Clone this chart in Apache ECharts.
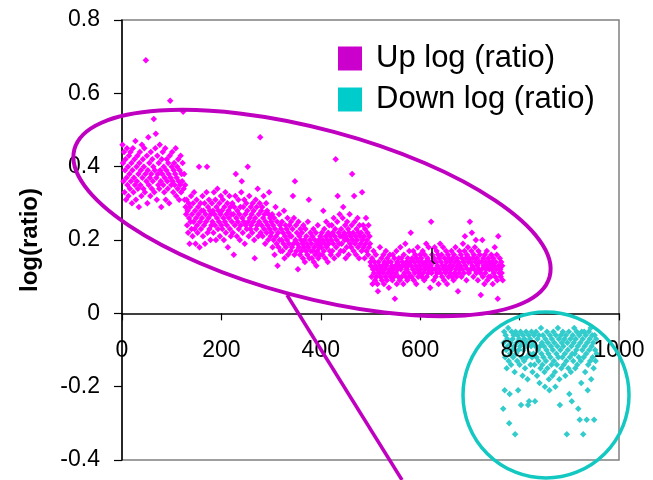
<!DOCTYPE html>
<html>
<head>
<meta charset="utf-8">
<script src="https://cdn.jsdelivr.net/npm/echarts/dist/echarts.min.js"></script>
<style>html,body{margin:0;padding:0;background:#fff;}#chart{width:653px;height:480px;}</style>
</head>
<body>
<div id="chart"></div>
<script>
// Series names
const seriesNames = ['Up log (ratio)', 'Down log (ratio)'];
// x tick / y tick settings
const xTicks = [0, 200, 400, 600, 800, 1000];
const yTicks = [-0.4, -0.2, 0, 0.2, 0.4, 0.6, 0.8];

// "Up" points: y values for rows 1..766 (x = row number)
const upStart = 1;
const upY = [
0.46,0.41,0.36,0.44,0.33,0.39,0.42,0.31,0.37,0.45,0.35,0.40,0.32,0.43,0.38,0.34,0.44,0.36,0.41,0.30,
0.39,0.45,0.33,0.37,0.42,0.35,0.47,0.31,0.40,0.36,0.43,0.34,0.38,0.29,0.41,0.44,0.35,0.39,0.32,0.46,
0.37,0.42,0.34,0.40,0.45,0.33,0.38,0.69,0.36,0.43,0.30,0.39,0.48,0.35,0.41,0.37,0.32,0.44,0.38,0.34,
0.42,0.36,0.40,0.53,0.33,0.39,0.45,0.49,0.37,0.31,0.43,0.38,0.35,0.41,0.34,0.46,0.39,0.36,0.29,0.42,
0.38,0.44,0.35,0.40,0.33,0.37,0.45,0.31,0.39,0.42,0.36,0.34,0.41,0.38,0.30,0.43,0.58,0.37,0.35,0.40,
0.44,0.36,0.33,0.39,0.41,0.35,0.38,0.45,0.32,0.37,0.40,0.34,0.42,0.36,0.31,0.39,0.35,0.43,0.33,0.38,
0.36,0.41,0.55,0.34,0.38,0.31,0.35,0.29,0.27,0.31,0.24,0.28,0.22,0.30,0.26,0.19,0.29,0.25,0.32,0.23,
0.27,0.21,0.30,0.25,0.33,0.23,0.28,0.19,0.26,0.31,0.24,0.22,0.29,0.27,0.40,0.18,0.25,0.30,0.23,0.28,
0.26,0.32,0.21,0.28,0.24,0.30,0.19,0.27,0.25,0.33,0.40,0.22,0.29,0.26,0.31,0.23,0.28,0.20,0.27,0.24,
0.30,0.25,0.28,0.22,0.33,0.27,0.24,0.31,0.20,0.29,0.26,0.34,0.23,0.28,0.25,0.30,0.21,0.27,0.32,0.24,
0.28,0.23,0.31,0.26,0.20,0.29,0.25,0.33,0.22,0.27,0.24,0.30,0.18,0.28,0.26,0.32,0.23,0.29,0.21,0.27,
0.25,0.30,0.22,0.27,0.16,0.29,0.24,0.32,0.38,0.26,0.21,0.28,0.25,0.31,0.23,0.27,0.20,0.29,0.24,0.33,
0.36,0.26,0.22,0.29,0.25,0.31,0.19,0.27,0.24,0.30,0.23,0.28,0.40,0.25,0.21,0.32,0.26,0.23,0.29,0.24,
0.27,0.22,0.30,0.25,0.28,0.20,0.15,0.26,0.31,0.23,0.29,0.24,0.34,0.21,0.27,0.25,0.30,0.48,0.22,0.28,
0.24,0.29,0.21,0.26,0.32,0.23,0.27,0.19,0.25,0.30,0.22,0.28,0.24,0.20,0.27,0.33,0.23,0.26,0.21,0.25,
0.22,0.27,0.18,0.24,0.20,0.26,0.16,0.23,0.29,0.21,0.19,0.25,0.13,0.22,0.18,0.27,0.20,0.24,0.17,0.23,
0.20,0.25,0.17,0.22,0.19,0.28,0.15,0.21,0.24,0.18,0.23,0.20,0.26,0.16,0.22,0.19,0.24,0.21,0.17,0.25,
0.21,0.18,0.23,0.32,0.19,0.26,0.16,0.36,0.20,0.24,0.17,0.22,0.19,0.12,0.25,0.18,0.21,0.16,0.23,0.20,
0.17,0.22,0.19,0.15,0.24,0.18,0.20,0.14,0.23,0.17,0.21,0.19,0.16,0.25,0.18,0.31,0.15,0.20,0.22,0.17,
0.19,0.15,0.21,0.17,0.23,0.14,0.18,0.20,0.16,0.22,0.13,0.19,0.17,0.24,0.15,0.20,0.18,0.16,0.21,0.19,
0.18,0.22,0.16,0.20,0.28,0.17,0.23,0.19,0.15,0.21,0.25,0.18,0.20,0.14,0.22,0.19,0.24,0.17,0.21,0.16,
0.20,0.24,0.17,0.22,0.19,0.26,0.15,0.21,0.23,0.42,0.18,0.20,0.25,0.32,0.16,0.22,0.19,0.27,0.21,0.17,
0.23,0.19,0.21,0.26,0.29,0.17,0.22,0.20,0.24,0.15,0.21,0.18,0.25,0.20,0.23,0.16,0.22,0.27,0.19,0.21,
0.18,0.24,0.38,0.20,0.22,0.17,0.32,0.25,0.19,0.21,0.16,0.23,0.20,0.26,0.18,0.22,0.15,0.24,0.21,0.19,
0.22,0.17,0.33,0.20,0.24,0.18,0.21,0.15,0.23,0.19,0.26,0.17,0.20,0.22,0.16,0.24,0.18,0.21,0.19,0.14,
0.13,0.10,0.15,0.08,0.12,0.17,0.11,0.14,0.09,0.13,0.16,0.10,0.12,0.08,0.06,0.14,0.11,0.13,0.18,0.10,
0.12,0.15,0.09,0.13,0.11,0.16,0.08,0.14,0.12,0.10,0.17,0.13,0.09,0.15,0.11,0.14,0.07,0.12,0.16,0.10,
0.14,0.11,0.13,0.09,0.16,0.12,0.10,0.15,0.04,0.13,0.11,0.17,0.08,0.14,0.12,0.10,0.15,0.13,0.09,0.18,
0.12,0.15,0.10,0.14,0.13,0.08,0.16,0.11,0.13,0.19,0.10,0.14,0.12,0.09,0.15,0.13,0.11,0.17,0.10,0.14,
0.22,0.13,0.10,0.15,0.12,0.17,0.09,0.14,0.11,0.16,0.13,0.08,0.15,0.12,0.18,0.10,0.14,0.11,0.13,0.16,
0.12,0.15,0.10,0.14,0.17,0.11,0.13,0.09,0.16,0.12,0.14,0.19,0.10,0.13,0.15,0.11,0.18,0.12,0.14,0.07,
0.13,0.25,0.11,0.16,0.12,0.14,0.09,0.15,0.18,0.12,0.10,0.14,0.17,0.11,0.13,0.16,0.08,0.15,0.12,0.19,
0.11,0.14,0.16,0.10,0.13,0.18,0.12,0.09,0.15,0.13,0.11,0.17,0.14,0.08,0.12,0.16,0.10,0.15,0.13,0.11,
0.14,0.12,0.17,0.10,0.15,0.13,0.09,0.16,0.11,0.14,0.18,0.12,0.10,0.15,0.13,0.06,0.14,0.11,0.17,0.12,
0.13,0.16,0.10,0.15,0.12,0.19,0.14,0.11,0.17,0.21,0.13,0.15,0.09,0.16,0.12,0.18,0.14,0.11,0.15,0.25,
0.14,0.12,0.17,0.22,0.13,0.15,0.10,0.16,0.12,0.18,0.14,0.20,0.11,0.15,0.13,0.09,0.17,0.12,0.14,0.16,
0.11,0.05,0.14,0.12,0.20,0.10,0.15,0.13,0.08,0.16,0.11,0.14,0.12,0.17,0.09,0.13,0.15,0.10,0.12,0.14,
0.13,0.10,0.16,0.12,0.14,0.08,0.15,0.11,0.13,0.18,0.10,0.14,0.12,0.16,0.09,0.04,0.21,0.13,0.11,0.15,
0.12,0.10,0.14,0.11,0.13,0.09
];

// "Down" points: y values for rows 767..955 (x = row number)
const downStart = 767;
const downY = [
-0.26,-0.08,-0.05,-0.21,-0.12,-0.06,-0.10,-0.15,-0.07,-0.09,-0.04,-0.13,-0.30,-0.22,-0.11,-0.08,-0.14,-0.05,-0.10,-0.07,
-0.12,-0.06,-0.09,-0.16,-0.33,-0.05,-0.11,-0.08,-0.13,-0.06,-0.21,-0.10,-0.07,-0.14,-0.09,-0.05,-0.25,-0.12,-0.08,-0.17,
-0.06,-0.10,-0.13,-0.07,-0.15,-0.09,-0.05,-0.12,-0.08,-0.18,-0.25,-0.06,-0.24,-0.11,-0.07,-0.14,-0.09,-0.05,-0.12,-0.16,
-0.08,-0.11,-0.06,-0.14,-0.24,-0.09,-0.05,-0.12,-0.17,-0.07,-0.10,-0.13,-0.06,-0.19,-0.09,-0.15,-0.04,-0.11,-0.08,-0.14,
-0.06,-0.12,-0.09,-0.16,-0.20,-0.07,-0.13,-0.10,-0.05,-0.15,-0.08,-0.11,-0.18,-0.21,-0.06,-0.12,-0.09,-0.14,-0.07,-0.17,
-0.10,-0.05,-0.13,-0.08,-0.16,-0.20,-0.06,-0.11,-0.14,-0.09,-0.04,-0.12,-0.07,-0.18,-0.25,-0.10,-0.06,-0.15,-0.08,-0.12,
-0.05,-0.09,-0.14,-0.07,-0.11,-0.17,-0.06,-0.13,-0.33,-0.08,-0.10,-0.15,-0.05,-0.22,-0.12,-0.07,-0.16,-0.09,-0.24,-0.11,
-0.06,-0.13,-0.08,-0.04,-0.11,-0.15,-0.07,-0.10,-0.05,-0.14,-0.09,-0.26,-0.12,-0.06,-0.29,-0.08,-0.13,-0.19,-0.05,-0.10,
-0.07,-0.33,-0.12,-0.05,-0.09,-0.16,-0.06,-0.11,-0.29,-0.08,-0.21,-0.14,-0.05,-0.10,-0.07,-0.13,-0.04,-0.18,-0.09,-0.06,
-0.12,-0.08,-0.15,-0.29,-0.06,-0.10,-0.13,-0.07,-0.11
];

const FONT = '"Liberation Sans", Arial, sans-serif';
const upData = upY.map((y, i) => [upStart + i, y]);
const downData = downY.map((y, i) => [downStart + i, y]);

// plot area (pixels) and zero-line offset for the x axis
const GRID = {left: 122, right: 34, top: 20, bottom: 20};
const plotH = 480 - GRID.top - GRID.bottom;
const zeroOffset = -plotH * (0 - yTicks[0]) / (yTicks[yTicks.length - 1] - yTicks[0]);

const chart = echarts.init(document.getElementById('chart'), null, {renderer: 'canvas'});
chart.setOption({
  animation: false,
  backgroundColor: '#ffffff',
  grid: {left: GRID.left, right: GRID.right, top: GRID.top, bottom: GRID.bottom, show: true,
         borderColor: '#808080', borderWidth: 1.5, containLabel: false, outerBoundsMode: 'none'},
  legend: {
    orient: 'vertical', left: 333, top: 38, itemWidth: 24, itemHeight: 24, itemGap: 10, icon: 'rect',
    textStyle: {fontSize: 31, fontFamily: FONT, color: '#000', padding: [0, 0, 0, 9]},
    data: [
      {name: seriesNames[0], itemStyle: {color: '#CC00CC', opacity: 1}},
      {name: seriesNames[1], itemStyle: {color: '#00CCCC', opacity: 1}}
    ]
  },
  xAxis: {
    type: 'value', min: xTicks[0], max: xTicks[xTicks.length - 1], interval: xTicks[1] - xTicks[0],
    position: 'bottom', offset: zeroOffset, z: 10,
    axisLine: {onZero: false, lineStyle: {color: '#000', width: 1.5}},
    axisTick: {show: true, length: 7, lineStyle: {color: '#000', width: 1.2}},
    axisLabel: {margin: 26, fontSize: 23, color: '#000', fontFamily: FONT, formatter: v => String(v)},
    splitLine: {show: false}
  },
  yAxis: {
    type: 'value', min: yTicks[0], max: yTicks[yTicks.length - 1], interval: yTicks[1] - yTicks[0],
    name: 'log(ratio)', nameLocation: 'middle', nameRotate: 90, nameGap: 80,
    nameTextStyle: {fontSize: 24, fontWeight: 'bold', fontFamily: FONT, color: '#000'},
    axisLine: {onZero: false, lineStyle: {color: '#000', width: 1.5}},
    axisTick: {show: true, length: 8, lineStyle: {color: '#000', width: 1.2}},
    axisLabel: {margin: 22, fontSize: 23, color: '#000', fontFamily: FONT, formatter: v => String(Math.round(v * 10) / 10)},
    splitLine: {show: false}
  },
  series: [
    {name: seriesNames[0], type: 'scatter', symbol: 'diamond', symbolSize: 6.5, data: upData,
     itemStyle: {color: '#FF00FF', opacity: 1}, emphasis: {disabled: true}},
    {name: seriesNames[1], type: 'scatter', symbol: 'diamond', symbolSize: 6.5, data: downData,
     itemStyle: {color: '#33CCCC', opacity: 1}, emphasis: {disabled: true}}
  ],
  graphic: [
    {type: 'ellipse', x: 312, y: 213, rotation: -15 * Math.PI / 180, shape: {cx: 0, cy: 0, rx: 246, ry: 84},
     style: {fill: 'none', stroke: '#C000C0', lineWidth: 4}, z: 100, silent: true},
    {type: 'line', shape: {x1: 287, y1: 295, x2: 402, y2: 480},
     style: {stroke: '#C000C0', lineWidth: 3.5}, z: 100, silent: true},
    {type: 'circle', shape: {cx: 546, cy: 395, r: 83},
     style: {fill: 'none', stroke: '#14C8C2', lineWidth: 3.5}, z: 100, silent: true},
    {type: 'polyline', shape: {points: [[432, 248], [432, 261], [435, 264]]},
     style: {stroke: '#000', lineWidth: 1.5, fill: 'none'}, z: 100, silent: true}
  ]
});
</script>
</body>
</html>
